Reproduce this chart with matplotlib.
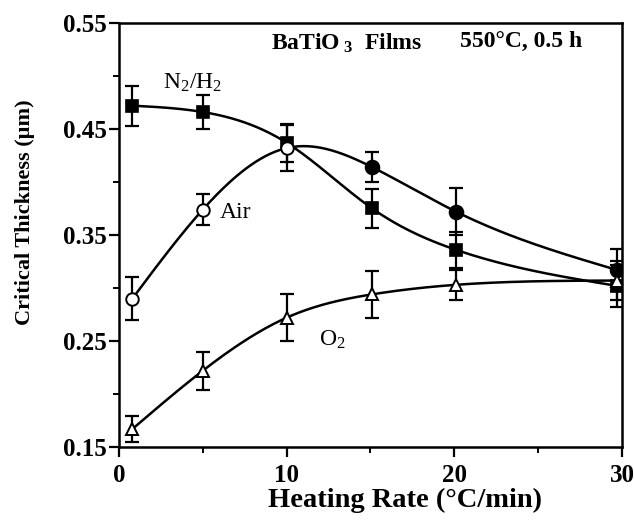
import numpy as np
import matplotlib
matplotlib.use("Agg")
import matplotlib.pyplot as plt
from matplotlib.ticker import MultipleLocator, FixedLocator

plt.rcParams['font.family'] = ['Liberation Serif', 'DejaVu Serif']
plt.rcParams['mathtext.fontset'] = 'custom'
plt.rcParams['mathtext.rm'] = 'Liberation Serif'
plt.rcParams['mathtext.it'] = 'Liberation Serif:italic'
plt.rcParams['mathtext.bf'] = 'Liberation Serif:bold'

# ---- data ----
rate = [0.8, 5, 10, 15.1, 20.1, 29.7]

n2h2 = [0.472, 0.466, 0.437, 0.375, 0.336, 0.302]
n2h2_err = [0.019, 0.016, 0.018, 0.018, 0.017, 0.020]

air = [0.290, 0.374, 0.432, 0.414, 0.372, 0.317]
air_err = [0.020, 0.015, 0.022, 0.014, 0.022, 0.020]

o2 = [0.167, 0.222, 0.272, 0.294, 0.303, 0.307]
o2_err = [0.012, 0.018, 0.022, 0.022, 0.014, 0.018]

x_ticks = [0, 10, 20, 30]
y_ticks = [0.15, 0.25, 0.35, 0.45, 0.55]


def natural_spline(x, y, xs):
    x = np.asarray(x, float); y = np.asarray(y, float)
    n = len(x); h = np.diff(x)
    A = np.zeros((n, n)); b = np.zeros(n)
    A[0, 0] = 1; A[-1, -1] = 1
    for i in range(1, n - 1):
        A[i, i - 1] = h[i - 1]
        A[i, i] = 2 * (h[i - 1] + h[i])
        A[i, i + 1] = h[i]
        b[i] = 6 * ((y[i + 1] - y[i]) / h[i] - (y[i] - y[i - 1]) / h[i - 1])
    M = np.linalg.solve(A, b)
    out = np.empty_like(xs)
    for k, t in enumerate(xs):
        i = min(max(np.searchsorted(x, t) - 1, 0), n - 2)
        dx = x[i + 1] - x[i]
        a = (x[i + 1] - t) / dx; c = (t - x[i]) / dx
        out[k] = (a * y[i] + c * y[i + 1]
                  + ((a ** 3 - a) * M[i] + (c ** 3 - c) * M[i + 1]) * dx ** 2 / 6)
    return out


fig = plt.figure(figsize=(6.34, 5.22), dpi=100)
ax = fig.add_axes([0.1877, 0.1437, 0.7933, 0.8123])

xs = np.linspace(rate[0], rate[-1], 300)
lw = 1.8
for yv in (n2h2, air, o2):
    ax.plot(xs, natural_spline(rate, yv, xs), color='black', lw=lw, zorder=2)

ekw = dict(fmt='none', ecolor='black', elinewidth=1.6, capsize=5, capthick=1.6, zorder=3)
ax.errorbar(rate, n2h2, yerr=n2h2_err, **ekw)
ax.errorbar(rate, air, yerr=air_err, **ekw)
ax.errorbar(rate, o2, yerr=o2_err, **ekw)

ax.plot(rate, n2h2, 's', ms=9, mfc='black', mec='black', mew=1.2, ls='none', zorder=4)
ax.plot(rate[:3], air[:3], 'o', ms=9, mfc='white', mec='black', mew=1.4, ls='none', zorder=5)
ax.plot(rate[3:], air[3:], 'o', ms=10, mfc='black', mec='black', mew=1.2, ls='none', zorder=4)
ax.plot(rate, o2, '^', ms=9, mfc='white', mec='black', mew=1.4, ls='none', zorder=4)

ax.set_xlim(0, 30)
ax.set_ylim(0.15, 0.55)
ax.xaxis.set_major_locator(FixedLocator(x_ticks))
ax.xaxis.set_minor_locator(MultipleLocator(5))
ax.yaxis.set_major_locator(FixedLocator(y_ticks))
ax.yaxis.set_minor_locator(MultipleLocator(0.05))
ax.set_xticklabels([str(v) for v in x_ticks])
ax.set_yticklabels([f"{v:.2f}" for v in y_ticks])
ax.tick_params(which='major', direction='out', length=7, width=1.6, labelsize=18)
ax.tick_params(axis='x', which='major', pad=5)
ax.tick_params(axis='y', which='major', pad=2)
ax.tick_params(which='minor', direction='out', length=4, width=1.4)
for lab in ax.get_xticklabels() + ax.get_yticklabels():
    lab.set_fontweight('bold')
for s in ax.spines.values():
    s.set_linewidth(1.8)

ax.set_xlabel('Heating Rate (°C/min)', fontsize=20.5, fontweight='bold')
ax.xaxis.set_label_coords(0.569, -0.096)
ax.set_ylabel('Critical Thickness (µm)', fontsize=16, fontweight='bold')
ax.yaxis.set_label_coords(-0.168, 0.554)

ax.text(0.302, 0.98, r'BaTiO$\mathregular{_{\ 3}}$  Films', transform=ax.transAxes,
        fontsize=17, fontweight='bold', va='top', ha='left')
ax.text(0.678, 0.98, '550°C, 0.5 h', transform=ax.transAxes,
        fontsize=17, fontweight='bold', va='top', ha='left')
ax.text(2.6, 0.488, r'N$_2$/H$_2$', fontsize=17)
ax.text(6.0, 0.366, 'Air', fontsize=17)
ax.text(11.9, 0.246, r'O$_2$', fontsize=17)

fig.savefig('out.png', dpi=100)
